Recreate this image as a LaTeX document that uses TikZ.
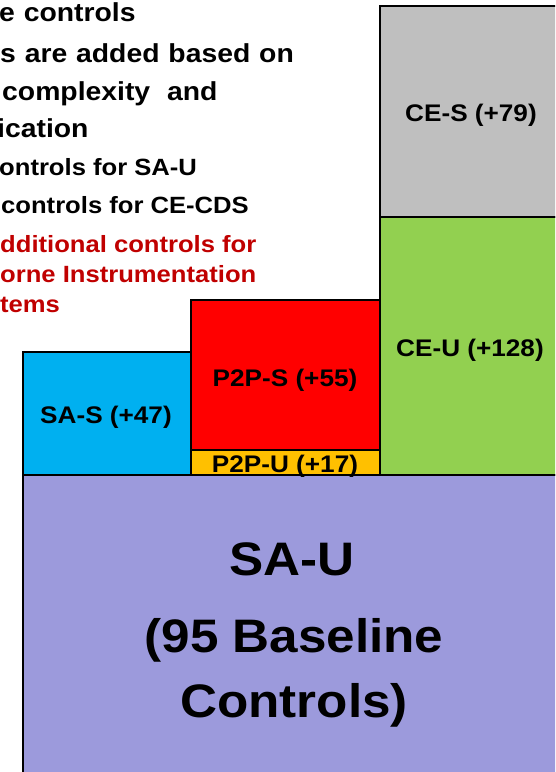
\documentclass[tikz,border=0pt]{standalone}
\usepackage{fontspec}
\setmainfont{Liberation Sans}[FakeStretch=1.09]
\definecolor{sauFill}{HTML}{9C9ADC}
\definecolor{sasFill}{HTML}{00B0F0}
\definecolor{ptpsFill}{HTML}{FF0000}
\definecolor{ptpuFill}{HTML}{FFC000}
\definecolor{ceuFill}{HTML}{92D050}
\definecolor{cesFill}{HTML}{BFBFBF}
\definecolor{noteRed}{HTML}{C00000}
\newcommand{\notefontone}{\bfseries\fontsize{26}{30}\selectfont\spaceskip=0.34em\relax}
\tikzset{
  block/.style={draw=black, line width=1.4pt},
  blocklabel/.style={anchor=base, inner sep=0pt, font=\bfseries\fontsize{24}{28}\selectfont},
  biglabel/.style={anchor=base, inner sep=0pt, font=\bfseries\fontsize{47}{52}\selectfont},
  lineone/.style={anchor=base west, inner sep=0pt, font=\notefontone},
  linetwo/.style={anchor=base west, inner sep=0pt, font=\bfseries\fontsize{23.5}{28}\selectfont},
}
\begin{document}
\begin{tikzpicture}[x=1pt,y=-1pt]
\useasboundingbox (0,0) rectangle (555,772);
\clip (0,0) rectangle (555,772);

% stacked control blocks
\draw[block, fill=sauFill]  (23,475)  rectangle (570,790);
\draw[block, fill=sasFill]  (23,352)  rectangle (191,475);
\draw[block, fill=ptpsFill] (191,300) rectangle (380,450);
\draw[block, fill=ptpuFill] (191,450) rectangle (380,475);
\draw[block, fill=ceuFill]  (380,217) rectangle (570,475);
\draw[block, fill=cesFill]  (380,6)   rectangle (570,217);

% block labels
\node[blocklabel] (ces)  at (471,121) {CE-S (+79)};
\node[blocklabel] (ceu)  at (470,356) {CE-U (+128)};
\node[blocklabel] (ptps) at (285,386) {P2P-S (+55)};
\node[blocklabel] (sas)  at (106,423) {SA-S (+47)};
\node[blocklabel] (ptpu) at (285,472) {P2P-U (+17)};
\node[biglabel] (sau1) at (292,575) {SA-U};
\node[biglabel] (sau2) at (294,652) {(95 Baseline};
\node[biglabel] (sau3) at (294,717) {Controls)};

% notes at the upper left
\node[lineone] (n1) at (-1,21)  {e controls};
\node[lineone] (n2) at (0,62)   {s are added based on};
\node[lineone] (n3) at (2,100)  {complexity\hspace{0.65em}and};
\node[lineone] (n4) at (-3,137) {ication};
\node[linetwo] (n5) at (-1,175) {ontrols for SA-U};
\node[linetwo] (n6) at (1,213)  {controls for CE-CDS};
\node[linetwo, text=noteRed] (n7) at (0,252) {dditional controls for};
\node[linetwo, text=noteRed] (n8) at (0,282) {orne Instrumentation};
\node[linetwo, text=noteRed] (n9) at (0,312) {tems};
\end{tikzpicture}
\end{document}
